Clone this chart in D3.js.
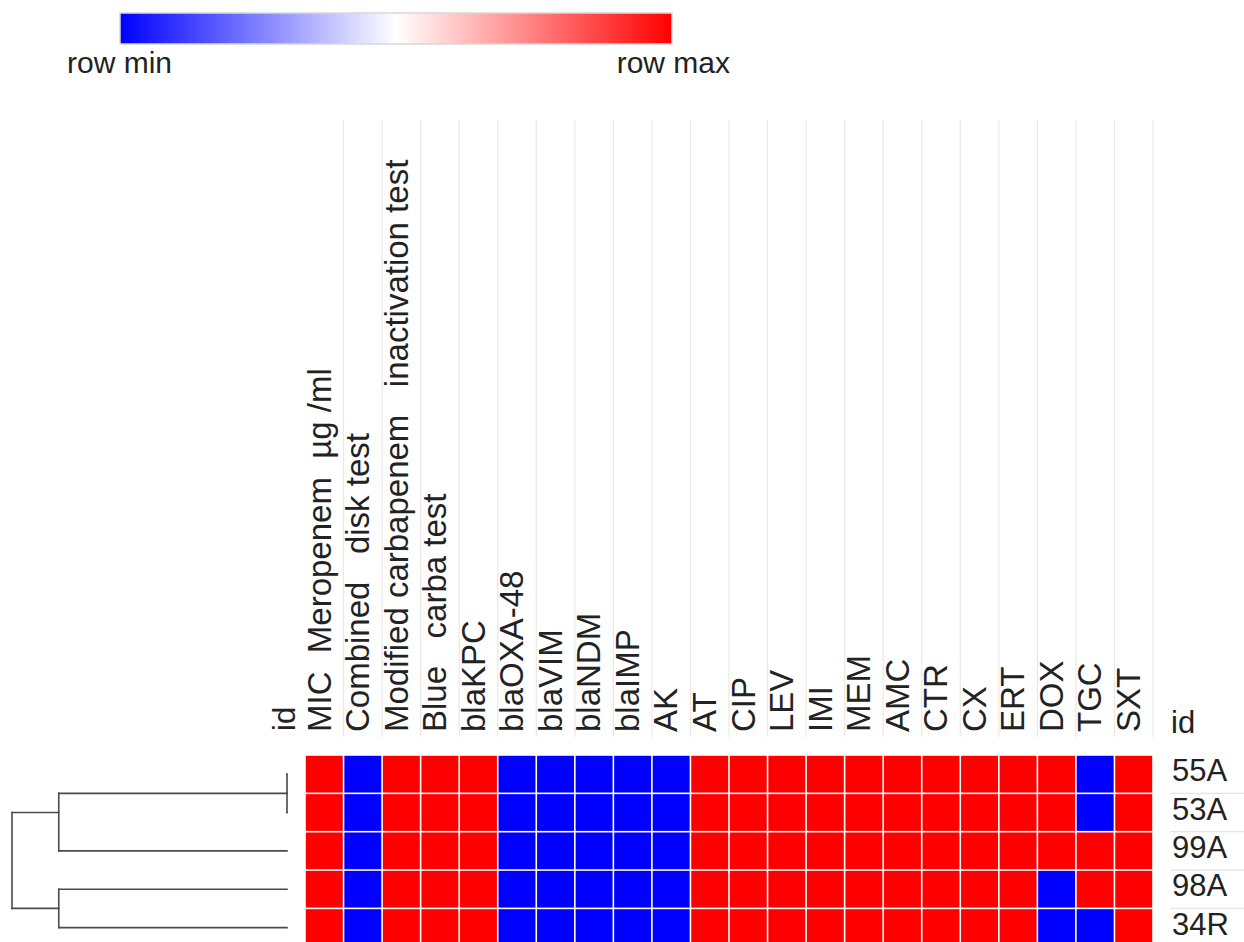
<!DOCTYPE html>
<html>
<head>
<meta charset="utf-8">
<script src="https://cdn.jsdelivr.net/npm/d3@7"></script>
<style>
  body { margin: 0; background: #fff; }
  text { font-family: "Liberation Sans", Arial, sans-serif; fill: #222; white-space: pre; }
</style>
</head>
<body>
<div id="chart"></div>
<script>
// isolates (rows) and tests / antibiotics (columns)
const rowIds = ["55A", "53A", "99A", "98A", "34R"];
const colNames = ["MIC  Meropenem  µg /ml", "Combined   disk test", "Modified carbapenem   inactivation test",
    "Blue   carba test", "blaKPC", "blaOXA-48", "blaVIM", "blaNDM", "blaIMP", "AK", "AT", "CIP", "LEV",
    "IMI", "MEM", "AMC", "CTR", "CX", "ERT", "DOX", "TGC", "SXT"];

const values55A = [1,0,1,1,1,0,0,0,0,0,1,1,1,1,1,1,1,1,1,1,0,1];
const values53A = [1,0,1,1,1,0,0,0,0,0,1,1,1,1,1,1,1,1,1,1,0,1];
const values99A = [1,0,1,1,1,0,0,0,0,0,1,1,1,1,1,1,1,1,1,1,1,1];
const values98A = [1,0,1,1,1,0,0,0,0,0,1,1,1,1,1,1,1,1,1,0,1,1];
const values34R = [1,0,1,1,1,0,0,0,0,0,1,1,1,1,1,1,1,1,1,0,0,1];
const rowValues = [values55A, values53A, values99A, values98A, values34R];

// hierarchical clustering merges (child a, child b, merge height)
const merges = [
    { id: "n1", a: "55A", b: "53A", height: 0 },
    { id: "n2", a: "n1", b: "99A", height: 0.83 },
    { id: "n3", a: "98A", b: "34R", height: 0.83 },
    { id: "n4", a: "n2", b: "n3", height: 1 }
];

const legendLabels = ["row min", "row max"];

const width = 1244, height = 942;

const svg = d3.select("#chart").append("svg")
    .attr("width", width)
    .attr("height", height);

let x = d3.scaleBand().domain(colNames).range([305, 1153]);
let y = d3.scaleBand().domain(rowIds).range([755, 755 + 5 * 38.35]);

// legend
let defs = svg.append("defs");
let grad = defs.append("linearGradient").attr("id", "rowgrad");
grad.append("stop").attr("offset", "0%").attr("stop-color", "#0000ff");
grad.append("stop").attr("offset", "50%").attr("stop-color", "#ffffff");
grad.append("stop").attr("offset", "100%").attr("stop-color", "#ff0000");

svg.append("rect")
    .attr("x", 120).attr("y", 13)
    .attr("width", 552).attr("height", 31)
    .attr("fill", "url(#rowgrad)")
    .attr("stroke", "#d8d8d8").attr("stroke-width", 1.5);

svg.append("text").attr("x", 67).attr("y", 73)
    .style("font-size", "30px").text(legendLabels[0]);
svg.append("text").attr("x", 730).attr("y", 73)
    .attr("text-anchor", "end")
    .style("font-size", "30px").text(legendLabels[1]);

// column divider lines in the header
svg.append("g").selectAll("line")
    .data(colNames)
    .join("line")
    .attr("x1", d => x(d) + x.bandwidth())
    .attr("x2", d => x(d) + x.bandwidth())
    .attr("y1", 120).attr("y2", 737)
    .attr("stroke", "#e8e8e8").attr("stroke-width", 1.2);

// column labels
svg.append("g").selectAll("text")
    .data(colNames)
    .join("text")
    .attr("transform", d => "translate(" + (x(d) + 25.5) + ",732) rotate(-90)")
    .style("font-size", "33px")
    .text(d => d);

svg.append("text")
    .attr("transform", "translate(295,731) rotate(-90)")
    .style("font-size", "31px")
    .text("id");

svg.append("text").attr("x", 1171).attr("y", 733)
    .style("font-size", "31px").text("id");

// heatmap cells, coloured from row min to row max
let cells = [];
rowIds.forEach((r, i) => {
    let vals = rowValues[i];
    let lo = d3.min(vals), hi = d3.max(vals);
    let color = d3.scaleLinear().domain([lo, (lo + hi) / 2, hi]).range(["#0000ff", "#ffffff", "#ff0000"]);
    vals.forEach((v, j) => cells.push({ row: r, col: colNames[j], value: v, color: color(v) }));
});

svg.append("g").selectAll("rect")
    .data(cells)
    .join("rect")
    .attr("x", d => x(d.col) + 0.8)
    .attr("y", d => y(d.row) + 0.8)
    .attr("width", x.bandwidth() - 1.6)
    .attr("height", y.bandwidth() - 1.6)
    .attr("fill", d => d.color);

// row labels and separators
svg.append("g").selectAll("line")
    .data(rowIds)
    .join("line")
    .attr("x1", 1170).attr("x2", width)
    .attr("y1", d => y(d) + y.bandwidth())
    .attr("y2", d => y(d) + y.bandwidth())
    .attr("stroke", "#e4e4e4").attr("stroke-width", 1.2);

svg.append("g").selectAll("text")
    .data(rowIds)
    .join("text")
    .attr("x", 1172)
    .attr("y", d => y(d) + y.bandwidth() / 2 + 7)
    .style("font-size", "31px")
    .text(d => d);

// dendrogram
let hx = d3.scaleLinear().domain([0, 1]).range([287, 12]);
let nodes = {};
rowIds.forEach(r => nodes[r] = { id: r, height: 0, y: y(r) + y.bandwidth() / 2, leaves: [r] });
merges.forEach(m => {
    let a = nodes[m.a], b = nodes[m.b];
    let leaves = a.leaves.concat(b.leaves);
    nodes[m.id] = {
        id: m.id, height: m.height, children: [a, b], leaves: leaves,
        y: d3.mean(leaves, l => nodes[l].y)
    };
});

let segs = [];
merges.forEach(m => {
    let n = nodes[m.id];
    segs.push([hx(n.height), n.children[0].y, hx(n.height), n.children[1].y]);
    n.children.forEach(c => segs.push([hx(n.height), c.y, hx(c.height), c.y]));
});

svg.append("g").selectAll("line")
    .data(segs)
    .join("line")
    .attr("x1", d => d[0]).attr("y1", d => d[1])
    .attr("x2", d => d[2]).attr("y2", d => d[3])
    .attr("stroke", "#4a4a4a")
    .attr("stroke-width", 1.6)
    .attr("stroke-linecap", "square");
</script>
</body>
</html>
